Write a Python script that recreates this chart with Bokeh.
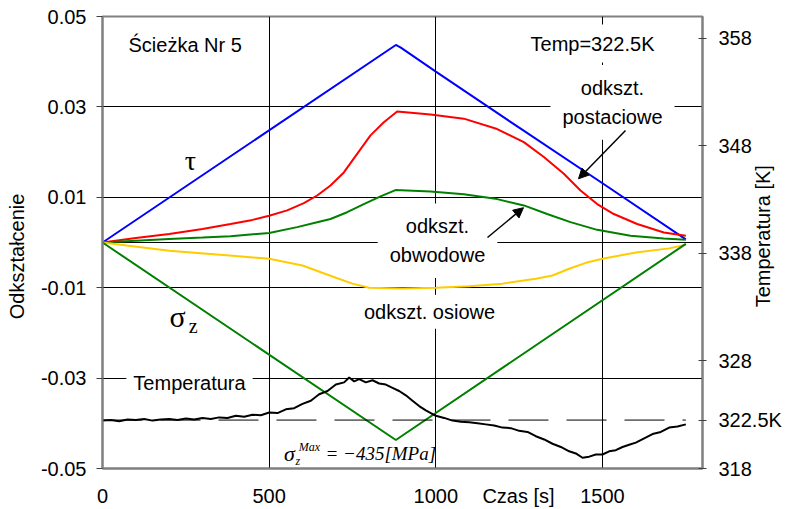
import math
from bokeh.plotting import figure
from bokeh.models import Range1d, LinearAxis, FixedTicker, Label, Arrow, NormalHead, Span
from bokeh.embed import file_html
from bokeh.resources import INLINE

# ---------------- data ----------------
t_tau = [0, 880, 895, 1000, 1250, 1500, 1750]
tau = [0.0, 0.0437, 0.0431, 0.0378, 0.0254, 0.0131, 0.0007]

t_sz = [0, 880, 1750]
sigma_z = [0.0, -0.0437, -0.0003]

t_post = [0, 100, 200, 300, 384, 450, 500, 554, 604, 644, 684, 724, 764, 804, 844, 884,
          984, 1084, 1184, 1264, 1324, 1384, 1434, 1484, 1534, 1604, 1684, 1750]
e_post = [0.0, 0.0010, 0.0019, 0.0030, 0.0041, 0.0050, 0.0059, 0.0071, 0.0087, 0.0104, 0.0126,
          0.0155, 0.0196, 0.0237, 0.0266, 0.0290, 0.0283, 0.0274, 0.0251, 0.0222, 0.0189, 0.0152,
          0.0115, 0.0085, 0.0063, 0.0041, 0.0022, 0.0015]

t_obw = [0, 100, 200, 300, 384, 500, 584, 644, 684, 734, 784, 834, 879,
         984, 1084, 1184, 1264, 1334, 1404, 1484, 1584, 1684, 1750]
e_obw = [0.0, 0.0004, 0.0008, 0.0011, 0.0014, 0.0021, 0.0034, 0.0045, 0.0052, 0.0067, 0.0085, 0.0102, 0.0116,
         0.0113, 0.0107, 0.0096, 0.0082, 0.0063, 0.0045, 0.0028, 0.0015, 0.0009, 0.0006]

t_osi = [0, 200, 400, 500, 600, 700, 750, 800, 900, 1000, 1100, 1200, 1300, 1350, 1400, 1450, 1500, 1600, 1700, 1750]
e_osi = [0.0, -0.0018, -0.0030, -0.0036, -0.0051, -0.0078, -0.0091, -0.0100, -0.0102, -0.0100, -0.0097,
         -0.0091, -0.0080, -0.0073, -0.0058, -0.0045, -0.0036, -0.0022, -0.0013, -0.0005]

t_temp = [0, 25, 50, 75, 100, 125, 150, 175, 200, 225, 250, 275, 300, 325, 350, 375, 400, 425, 450, 475,
          500, 525, 550, 575, 600, 625, 650, 675, 700, 725, 740, 755, 770, 790, 810, 830, 850, 870, 890, 910,
          930, 950, 970, 1000, 1025, 1050, 1075, 1100, 1125, 1150, 1175, 1200, 1225, 1250, 1275, 1300, 1325,
          1350, 1375, 1400, 1420, 1440, 1460, 1480, 1500, 1520, 1540, 1560, 1580, 1600, 1625, 1650, 1675,
          1700, 1725, 1750]
temp = [322.45, 322.50, 322.40, 322.55, 322.50, 322.60, 322.45, 322.55, 322.60, 322.50, 322.65, 322.55,
        322.70, 322.60, 322.75, 322.70, 322.90, 322.80, 323.00, 322.95, 323.20, 323.15, 323.50, 323.60,
        324.00, 324.30, 324.90, 325.20, 325.80, 326.00, 326.45, 326.10, 326.30, 326.00, 326.20, 325.90,
        325.80, 325.50, 325.20, 324.80, 324.30, 323.80, 323.40, 322.90, 322.70, 322.45, 322.35, 322.30,
        322.20, 322.10, 322.00, 321.80, 321.75, 321.50, 321.40, 321.00, 320.70, 320.30, 320.00, 319.60,
        319.40, 319.00, 319.10, 319.30, 319.30, 319.60, 319.70, 320.00, 320.20, 320.40, 320.80, 321.20,
        321.40, 321.80, 321.90, 322.10]

T_REF = 322.5
x_ticks = [0, 500, 1000, 1500]
y_ticks = [-0.05, -0.03, -0.01, 0.01, 0.03, 0.05]
t_ticks = [318, 328, 338, 348, 358]
X_TITLE_POS = 1248          # where "Czas [s]" sits in the tick-label row

FONT = "Liberation Sans"
SERIF = "Liberation Serif"
FS = "20px"
NBSP = "\u00a0"

# ---------------- figure ----------------
p = figure(frame_width=600, frame_height=452,
           min_border_left=102, min_border_right=85, min_border_top=16, min_border_bottom=41,
           x_range=Range1d(0, 1800), y_range=Range1d(-0.05, 0.05),
           output_backend="svg", toolbar_location=None)
p.extra_y_ranges = {"temp": Range1d(318, 360)}

p.outline_line_color = "#808080"
p.outline_line_width = 2
p.background_fill_color = "white"
p.border_fill_color = "white"

# grid
p.xgrid.ticker = FixedTicker(ticks=x_ticks[1:])
p.ygrid.ticker = FixedTicker(ticks=y_ticks[1:-1])
for g in (p.xgrid, p.ygrid):
    g.grid_line_color = "black"
    g.grid_line_width = 1
    g.grid_line_alpha = 1.0
p.add_layout(Span(location=0, dimension="width", line_color="black", line_width=1, level="underlay"))

# axes
xa = p.xaxis[0]
xa.ticker = FixedTicker(ticks=x_ticks + [X_TITLE_POS])
xa.major_label_overrides = {X_TITLE_POS: "Czas [s]"}
xa.major_tick_out = 0
xa.major_tick_in = 0
xa.minor_tick_out = 0
xa.minor_tick_in = 0
xa.major_label_standoff = 16

ya = p.yaxis[0]
ya.ticker = FixedTicker(ticks=y_ticks)
ya.major_label_overrides = {v: f"{v:.2f}" for v in y_ticks}
ya.major_tick_out = 6
ya.major_tick_in = 0
ya.minor_tick_out = 0
ya.minor_tick_in = 0
ya.major_label_standoff = 10
ya.axis_label = "Odkształcenie" + NBSP * 5
ya.axis_label_standoff = 10

ra = LinearAxis(y_range_name="temp", ticker=FixedTicker(ticks=t_ticks + [T_REF]))
ra.major_label_overrides = {T_REF: "322.5K"}
ra.major_tick_out = 4
ra.major_tick_in = 4
ra.minor_tick_out = 0
ra.minor_tick_in = 0
ra.major_label_standoff = 12
# leading no-break spaces lift the (bottom-anchored, upward-reading) title into place
ra.axis_label = NBSP * 29 + "Temperatura [K]"
ra.axis_label_standoff = -22
ra.axis_label_orientation = math.pi / 2
try:
    ra.axis_label_align = "start"
except Exception:
    pass
p.add_layout(ra, "right")

for ax in (xa, ya, ra):
    ax.axis_line_color = "#808080"
    ax.axis_line_width = 2
    ax.major_tick_line_color = "#404040"
    ax.major_label_text_font = FONT
    ax.major_label_text_font_size = FS
    ax.major_label_text_color = "black"
    ax.axis_label_text_font = FONT
    ax.axis_label_text_font_size = FS
    ax.axis_label_text_font_style = "normal"
    ax.axis_label_text_color = "black"

# ---------------- lines ----------------
LW = 2
p.line(t_tau, tau, line_color="#0000FF", line_width=LW)
p.line(t_post, e_post, line_color="#FF0000", line_width=LW)
p.line(t_obw, e_obw, line_color="#008000", line_width=LW)
p.line(t_osi, e_osi, line_color="#FFCC00", line_width=LW)
p.line(t_sz, sigma_z, line_color="#008000", line_width=LW)
p.line([t_temp[0], t_temp[-1]], [T_REF, T_REF], y_range_name="temp",
       line_color="black", line_width=1, line_dash="40 18")
p.line(t_temp, temp, y_range_name="temp", line_color="black", line_width=2)

# ---------------- labels ----------------
def lab(x, y, text, align="center", size=FS, font=FONT, style="normal", bg=None, pad=0, **kw):
    l = Label(x=x, y=y, text=text, text_align=align, text_baseline="middle",
              text_font=font, text_font_size=size, text_font_style=style, text_color="black",
              text_line_height=1.3, **kw)
    if bg:
        l.background_fill_color = bg
        l.padding = pad
    p.add_layout(l)
    return l

lab(78, 0.0438, "Ścieżka Nr 5", align="left")
lab(1470, 0.0440, "Temp=322.5K", bg="white", pad=8)
lab(1530, 0.0310, "odkszt.\npostaciowe", bg="white", pad=12)
lab(1005, 0.0004, "odkszt.\nobwodowe", bg="white", pad=12)
lab(981, -0.0153, "odkszt. osiowe", bg="white", pad=6)
lab(261, -0.0310, "Temperatura", bg="white", pad=7)
lab(264, 0.0181, "τ", size="28px", font=SERIF)
lab(225, -0.0164, "σ", size="30px", font=SERIF)
lab(272, -0.0184, "z", size="20px", font=SERIF)

# sigma_z^Max annotation
lab(561, -0.0466, "σ", size="22px", font=SERIF, style="italic")
lab(586, -0.0484, "z", size="12px", font=SERIF, style="italic")
lab(621, -0.0452, "Max", size="12px", font=SERIF, style="italic")
lab(669, -0.0466, "= −435[MPa]", align="left", size="19px", font=SERIF, style="italic")

# arrows
head = dict(size=10, fill_color="black", line_color="black")
p.add_layout(Arrow(end=NormalHead(**head), x_start=1569, y_start=0.0248, x_end=1428, y_end=0.0141,
                   line_color="black", line_width=1.5))
p.add_layout(Arrow(end=NormalHead(**head), x_start=1155, y_start=0.0011, x_end=1263, y_end=0.0077,
                   line_color="black", line_width=1.5))

open("out.html", "w").write(file_html(p, INLINE))
